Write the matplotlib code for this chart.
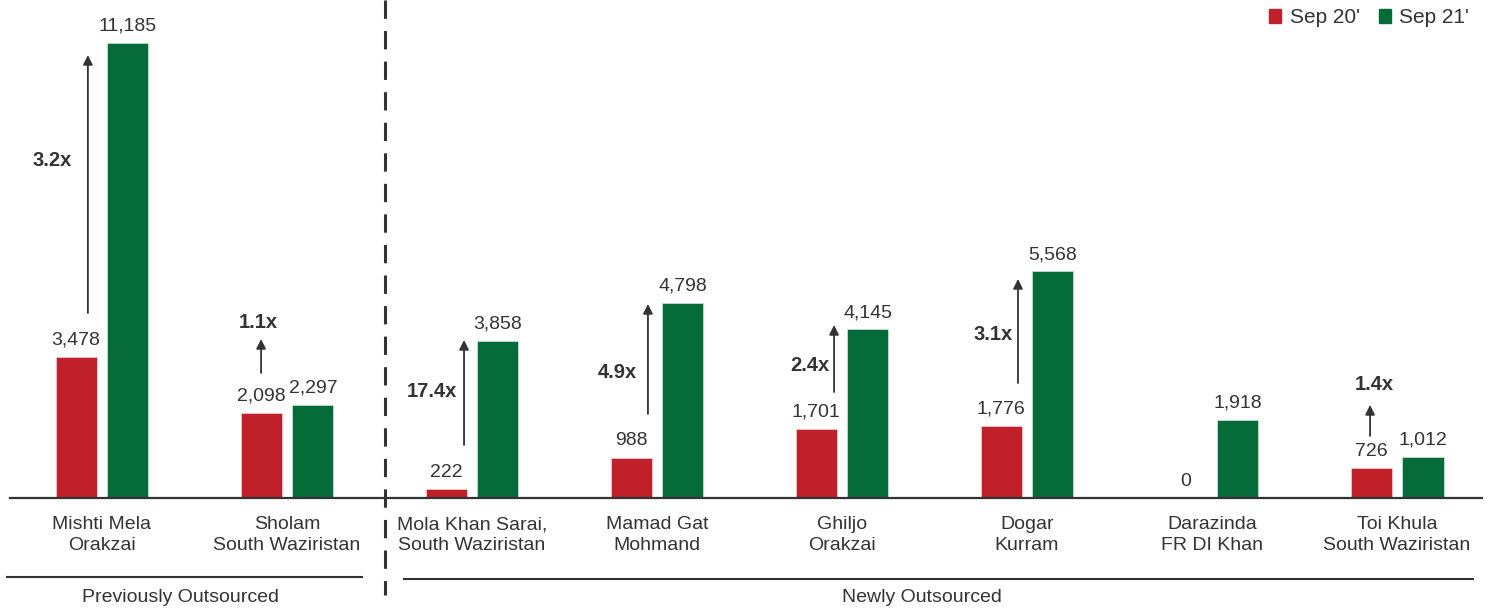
import matplotlib.pyplot as plt
from matplotlib.lines import Line2D
from matplotlib.patches import Patch
import numpy as np

plt.rcParams['font.family'] = ['Liberation Sans', 'DejaVu Sans']

# данные
sites = ['Mishti Mela\nOrakzai', 'Sholam\nSouth Waziristan', 'Mola Khan Sarai,\nSouth Waziristan',
         'Mamad Gat\nMohmand', 'Ghiljo\nOrakzai', 'Dogar\nKurram', 'Darazinda\nFR DI Khan',
         'Toi Khula\nSouth Waziristan']
sep20 = [3478, 2098, 222, 988, 1701, 1776, 0, 726]
sep21 = [11185, 2297, 3858, 4798, 4145, 5568, 1918, 1012]
growth = ['3.2x', '1.1x', '17.4x', '4.9x', '2.4x', '3.1x', None, '1.4x']

# стрелки роста: (x смещение, низ, верх, x подписи, y подписи)
arrows = {0: (-0.076, 4547, 10889, -0.27, 8308),
          1: (-0.14, 3073, 3908, -0.157, 4302),
          2: (-0.043, 1303, 3884, -0.216, 2630),
          3: (-0.049, 2065, 4769, -0.216, 3097),
          4: (-0.043, 2606, 4252, -0.173, 3269),
          5: (-0.049, 2827, 5383, -0.184, 4031),
          7: (-0.146, 1524, 2286, -0.124, 2778)}

red = '#C0202A'
green = '#056B38'
txt = '#333333'
fs = 14

fig = plt.figure(figsize=(14.94, 6.09), dpi=100)
ax = fig.add_axes([10 / 1494, 111 / 609, 1472 / 1494, 498 / 609])

x = np.arange(len(sites))
w = 0.222
b1 = ax.bar(x - 0.14, sep20, w, color=red, edgecolor='#f0d0d0', linewidth=0.5)
b2 = ax.bar(x + 0.14, sep21, w, color=green, edgecolor='#d0e8d8', linewidth=0.5)

for bars, vals in [(b1, sep20), (b2, sep21)]:
    for rect, v in zip(bars, vals):
        ax.annotate(f'{v:,}', (rect.get_x() + rect.get_width() / 2, v),
                    xytext=(0, 6), textcoords='offset points',
                    ha='center', va='bottom', fontsize=fs, color=txt)

for i, (dx, y0, y1, lx, ly) in arrows.items():
    ax.annotate('', xy=(i + dx, y1), xytext=(i + dx, y0),
                arrowprops=dict(arrowstyle='-|>', color=txt, lw=1.3,
                                mutation_scale=14, shrinkA=0, shrinkB=0))
    ax.text(i + lx, ly, growth[i], ha='center', va='center',
            fontsize=14.5, fontweight='bold', color=txt)

ax.set_xlim(-0.497, 7.459)
ax.set_ylim(0, 12242)
ax.set_yticks([])
ax.set_xticks(x)
ax.set_xticklabels(sites, fontsize=fs, color=txt, linespacing=1.3)
ax.tick_params(axis='x', length=0, pad=13)
for s in ['top', 'right', 'left']:
    ax.spines[s].set_visible(False)
ax.spines['bottom'].set_color(txt)
ax.spines['bottom'].set_linewidth(1.6)

# разделитель и подписи разделов
fig.add_artist(Line2D([385 / 1494, 385 / 1494], [1, 1 - 595 / 609], transform=fig.transFigure,
                      color=txt, lw=2.2, linestyle=(0, (6, 4))))
fig.add_artist(Line2D([7 / 1494, 362 / 1494], [1 - 577 / 609] * 2, transform=fig.transFigure,
                      color=txt, lw=1.5))
fig.add_artist(Line2D([404 / 1494, 1473 / 1494], [1 - 579 / 609] * 2, transform=fig.transFigure,
                      color=txt, lw=1.5))
fig.text(181 / 1494, 1 - 597 / 609, 'Previously Outsourced', ha='center', va='center',
         fontsize=fs, color=txt)
fig.text(922 / 1494, 1 - 597 / 609, 'Newly Outsourced', ha='center', va='center',
         fontsize=fs, color=txt)

handles = [Patch(color=red, label="Sep 20'"), Patch(color=green, label="Sep 21'")]
fig.legend(handles=handles, loc='upper right', bbox_to_anchor=(1488 / 1494, 1.017), ncol=2,
           frameon=False, fontsize=15, handlelength=0.6, handleheight=0.6,
           handletextpad=0.4, columnspacing=0.9, labelcolor=txt)

fig.savefig('out.png', dpi=100)
